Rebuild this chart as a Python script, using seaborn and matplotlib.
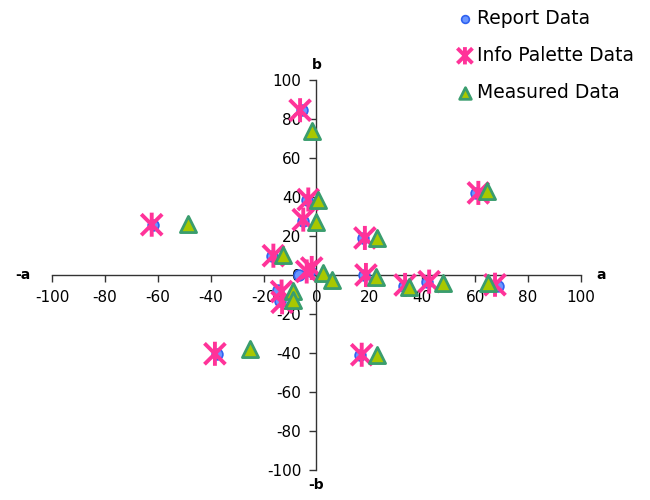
import matplotlib
matplotlib.use("Agg")
import matplotlib.pyplot as plt
from matplotlib.path import Path
import seaborn as sns
import pandas as pd

# values (CIE a*, b*)
report_a = [-5.6, -3.7, -5.2, -61.7, -16.8, 17.5, 60.3, 17.8, 33.0, 41.7, 68.7, -37.5, 16.4, -6.5, -2.3, -14.4, -13.8]
report_b = [84.5, 38.7, 27.5, 25.8, 9.9, 19.0, 42.1, 0.0, -5.5, -3.4, -5.5, -40.4, -41.2, 0.0, 2.0, -7.5, -13.5]

palette_a = [-6.2, -3.1, -5.0, -62.3, -16.3, 18.3, 61.2, 18.7, 33.5, 42.6, 67.5, -38.4, 17.1, -3.7, -1.8, -13.2, -13.0]
palette_b = [84.5, 38.7, 28.4, 25.8, 9.9, 19.0, 42.1, 0.0, -5.1, -3.4, -5.0, -40.4, -40.9, 1.8, 3.6, -8.5, -14.0]

measured_a = [-1.6, 0.7, -0.3, -48.5, -12.6, 22.8, 64.3, 22.5, 35.1, 47.7, 65.0, -25.1, 22.8, 2.6, 5.7, -8.8, -8.8]
measured_b = [73.7, 38.7, 27.0, 26.2, 10.4, 19.0, 42.9, -1.0, -5.9, -4.2, -4.2, -38.0, -40.9, 1.0, -2.4, -8.0, -13.0]

series_names = ["Report Data", "Info Palette Data", "Measured Data"]
ticks = [-100, -80, -60, -40, -20, 0, 20, 40, 60, 80, 100]

sns.set_style("white")
plt.rcParams["font.family"] = ["DejaVu Sans"]
plt.rcParams["axes.unicode_minus"] = False

# star-like cross (X with a vertical bar)
star = Path([(-1, -1), (1, 1), (-1, 1), (1, -1), (0, -1.15), (0, 1.15)],
            [Path.MOVETO, Path.LINETO, Path.MOVETO, Path.LINETO, Path.MOVETO, Path.LINETO])

fig = plt.figure(figsize=(6.5, 5), dpi=100)
ax = fig.add_axes([0.08, 0.06, 0.8138, 0.78])

df_r = pd.DataFrame({"a": report_a, "b": report_b})
df_p = pd.DataFrame({"a": palette_a, "b": palette_b})
df_m = pd.DataFrame({"a": measured_a, "b": measured_b})

sns.scatterplot(data=df_r, x="a", y="b", ax=ax, marker="o", s=60,
                color="#6b96ff", edgecolor="#2f62f0", linewidth=1.2,
                label=series_names[0], zorder=3)
sns.scatterplot(data=df_p, x="a", y="b", ax=ax, marker=star, s=300,
                facecolor="none", edgecolor="#ff3399", linewidth=2.8,
                label=series_names[1], zorder=4)
sns.scatterplot(data=df_m, x="a", y="b", ax=ax, marker="^", s=135,
                color="#a8c800", edgecolor="#3a9d6e", linewidth=2.0,
                label=series_names[2], zorder=5)

ax.set_xlim(-100, 100)
ax.set_ylim(-100, 100)
ax.set_xticks(ticks)
ax.set_yticks(ticks)
ax.set_xlabel("")
ax.set_ylabel("")

# axes crossing at the origin
ax.spines["left"].set_position("zero")
ax.spines["bottom"].set_position("zero")
ax.spines["right"].set_visible(False)
ax.spines["top"].set_visible(False)
for sp in ("left", "bottom"):
    ax.spines[sp].set_color("#333333")
    ax.spines[sp].set_linewidth(1.0)
ax.tick_params(axis="both", bottom=True, left=True, direction="out", length=5,
               width=1, color="#333333", labelsize=11, labelcolor="#000000", pad=6)
ax.grid(False)

lab = dict(fontsize=10, fontweight="bold", color="#000000")
ax.text(-108, 0, "-a", ha="right", va="center", **lab)
ax.text(106, 0, "a", ha="left", va="center", **lab)
ax.text(0, 104, "b", ha="center", va="bottom", **lab)
ax.text(0, -104, "-b", ha="center", va="top", **lab)

ax.get_legend().remove()
handles, labels = ax.get_legend_handles_labels()
fig.legend(handles, labels, loc="upper left", bbox_to_anchor=(0.672, 1.016),
           frameon=False, fontsize=13.5, markerscale=0.72, labelspacing=0.95,
           handletextpad=0.05, handlelength=1.2, labelcolor="#000000")

fig.savefig("out.png", dpi=100)
